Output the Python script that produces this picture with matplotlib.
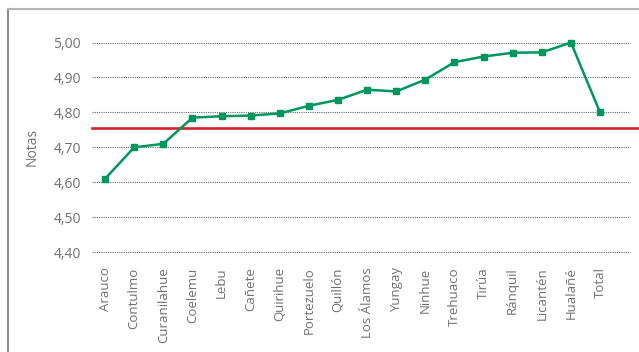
import matplotlib.pyplot as plt
from matplotlib.lines import Line2D

# notas por comuna
comunas = ["Arauco", "Contulmo", "Curanilahue", "Coelemu", "Lebu", "Cañete",
           "Quirihue", "Portezuelo", "Quillón", "Los Álamos", "Yungay", "Ninhue",
           "Trehuaco", "Tirúa", "Ránquil", "Licantén", "Hualañé", "Total"]
notas = [4.61, 4.70, 4.71, 4.785, 4.789, 4.791, 4.797, 4.819, 4.836, 4.865,
         4.860, 4.894, 4.944, 4.960, 4.971, 4.972, 5.00, 4.80]
referencia = 4.756
yticks = [4.40, 4.50, 4.60, 4.70, 4.80, 4.90, 5.00]

green = "#00965e"
red = "#d2232a"
gray = "#707070"
plt.rcParams['font.family'] = ['Open Sans', 'DejaVu Sans']

fig = plt.figure(figsize=(6.39, 3.52), dpi=100)
ax = fig.add_axes([0.144, 0.284, 0.842, 0.595])

for y in yticks:
    ax.axhline(y, color="#666666", lw=0.8, ls=(0, (1, 1)), clip_on=False, zorder=1)

ax.axhline(referencia, xmin=0, xmax=(639 - 92) / (630 - 92), color=red, lw=1.9,
           clip_on=False, zorder=2)

x = list(range(len(comunas)))
ax.plot(x, notas, color=green, lw=1.8, marker="s", ms=5, clip_on=False, zorder=3)

ax.set_xlim(-0.45, 18.03)
ax.set_ylim(4.40, 5.00)
ax.set_yticks(yticks)
ax.set_yticklabels([f"{v:.2f}".replace(".", ",") for v in yticks],
                   fontsize=10, color=gray)
ax.set_xticks(x)
ax.set_xticklabels(comunas, rotation=90, fontsize=9.5, color=gray,
                   va="top", ha="center")
ax.tick_params(axis="both", length=0)
ax.tick_params(axis="x", pad=11)
ax.tick_params(axis="y", pad=8)
for s in ax.spines.values():
    s.set_visible(False)
ax.set_ylabel("Notas", fontsize=10, color=gray, labelpad=10)

# marco gris superior e izquierdo
fig.add_artist(Line2D([7.5 / 639, 7.5 / 639], [0, 1 - 9 / 352],
                      transform=fig.transFigure, color="#8a8a8a", lw=1.5))
fig.add_artist(Line2D([7.5 / 639, 1], [1 - 9 / 352, 1 - 9 / 352],
                      transform=fig.transFigure, color="#b5b5b5", lw=1.5))

fig.savefig("out.png", dpi=100)
